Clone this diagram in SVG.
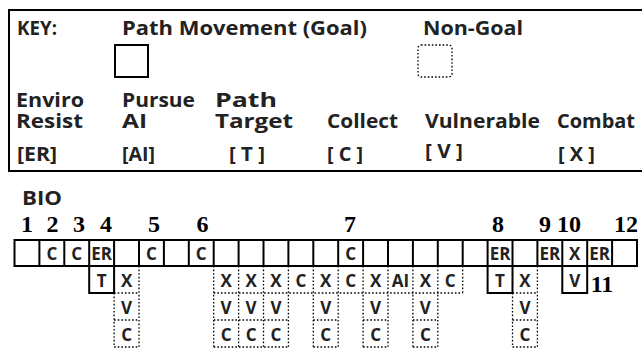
<svg xmlns="http://www.w3.org/2000/svg" width="642" height="350" viewBox="0 0 642 350">
<style>
.k{font-family:"Open Sans","Liberation Sans",sans-serif;font-weight:bold;font-size:19px;fill:#222}
.n{font-family:"Liberation Serif","Times New Roman",serif;font-weight:bold;font-size:24px;fill:#000;text-anchor:middle}
.c{font-family:"Open Sans","Liberation Sans",sans-serif;font-weight:bold;font-size:17px;fill:#222;text-anchor:middle}
.s{fill:none;stroke:#000;stroke-width:2}
.d{fill:none;stroke:#000;stroke-width:1.3;stroke-dasharray:1.6 2}
</style>
<rect width="642" height="350" fill="#fff"/>
<g id="key">
  <path class="s" d="M650 10H9V171H650"/>
  <text class="k" x="17" y="35" textLength="40" lengthAdjust="spacingAndGlyphs">KEY:</text>
  <g id="key-goal">
    <text class="k" x="122" y="35" textLength="245" lengthAdjust="spacingAndGlyphs">Path Movement (Goal)</text>
    <rect class="s" x="115" y="45" width="33" height="32"/>
  </g>
  <g id="key-nongoal">
    <text class="k" x="423" y="35" textLength="100" lengthAdjust="spacingAndGlyphs">Non-Goal</text>
    <rect class="d" x="418" y="45" width="34" height="32" rx="3"/>
  </g>
  <g id="key-er">
    <text class="k" x="16" y="107" textLength="68" lengthAdjust="spacingAndGlyphs">Enviro</text>
    <text class="k" x="16" y="128" textLength="67" lengthAdjust="spacingAndGlyphs">Resist</text>
    <text class="k" x="17" y="161" textLength="40" lengthAdjust="spacingAndGlyphs">[ER]</text>
  </g>
  <g id="key-ai">
    <text class="k" x="122" y="107" textLength="73" lengthAdjust="spacingAndGlyphs">Pursue</text>
    <text class="k" x="122" y="128" textLength="25" lengthAdjust="spacingAndGlyphs">AI</text>
    <text class="k" x="122" y="161" textLength="33" lengthAdjust="spacingAndGlyphs">[AI]</text>
  </g>
  <g id="key-t">
    <text class="k" x="215" y="107" textLength="62" lengthAdjust="spacingAndGlyphs">Path</text>
    <text class="k" x="215" y="128" textLength="78" lengthAdjust="spacingAndGlyphs">Target</text>
    <text class="k" x="229" y="161" textLength="36" lengthAdjust="spacingAndGlyphs">[ T ]</text>
  </g>
  <g id="key-c">
    <text class="k" x="327" y="128" textLength="71" lengthAdjust="spacingAndGlyphs">Collect</text>
    <text class="k" x="327" y="161" textLength="36" lengthAdjust="spacingAndGlyphs">[ C ]</text>
  </g>
  <g id="key-v">
    <text class="k" x="425" y="128" textLength="115" lengthAdjust="spacingAndGlyphs">Vulnerable</text>
    <text class="k" x="425" y="158" textLength="38" lengthAdjust="spacingAndGlyphs">[ V ]</text>
  </g>
  <g id="key-x">
    <text class="k" x="557" y="128" textLength="78" lengthAdjust="spacingAndGlyphs">Combat</text>
    <text class="k" x="558" y="161" textLength="37" lengthAdjust="spacingAndGlyphs">[ X ]</text>
  </g>
</g>
<g id="bio">
  <text class="k" x="22" y="205" textLength="40" lengthAdjust="spacingAndGlyphs" style="font-size:20px">BIO</text>
</g>
<g id="numbers">
  <text class="n" x="27" y="232">1</text>
  <text class="n" x="52.5" y="232">2</text>
  <text class="n" x="79" y="232">3</text>
  <text class="n" x="106" y="232">4</text>
  <text class="n" x="154" y="232">5</text>
  <text class="n" x="202.5" y="232">6</text>
  <text class="n" x="350" y="232">7</text>
  <text class="n" x="498" y="232">8</text>
  <text class="n" x="545" y="232">9</text>
  <text class="n" x="569" y="232">10</text>
  <text class="n" x="602" y="292">11</text>
  <text class="n" x="626" y="232">12</text>
</g>
<g id="track">
  <rect class="s" x="14.5" y="240" width="622.5" height="26"/>
  <path class="s" d="M39.4 240V266M64.3 240V266M89.2 240V266M114.1 240V266M139 240V266M163.9 240V266M188.8 240V266M213.7 240V266M238.6 240V266M263.5 240V266M288.4 240V266M313.3 240V266M338.2 240V266M363.1 240V266M388 240V266M412.9 240V266M437.8 240V266M462.7 240V266M487.6 240V266M512.5 240V266M537.4 240V266M562.3 240V266M587.2 240V266M612.1 240V266"/>
  <g id="cell-2"><text class="c" x="51.85" y="260">C</text></g>
  <g id="cell-3"><text class="c" x="76.75" y="260">C</text></g>
  <g id="cell-4"><text class="c" x="101.65" y="260">ER</text></g>
  <g id="cell-5"><text class="c" x="151.45" y="260">C</text></g>
  <g id="cell-6"><text class="c" x="201.25" y="260">C</text></g>
  <g id="cell-7"><text class="c" x="350.65" y="260">C</text></g>
  <g id="cell-8"><text class="c" x="500.05" y="260">ER</text></g>
  <g id="cell-9"><text class="c" x="549.85" y="260">ER</text></g>
  <g id="cell-10"><text class="c" x="574.75" y="260">X</text></g>
  <g id="cell-12"><text class="c" x="599.65" y="260">ER</text></g>
</g>
<g id="goal-boxes">
  <g id="goal-t4"><rect class="s" x="89.2" y="266" width="24.9" height="27"/><text class="c" x="101.65" y="287">T</text></g>
  <g id="goal-t8"><rect class="s" x="487.6" y="266" width="24.9" height="27"/><text class="c" x="500.05" y="287">T</text></g>
  <g id="goal-v11"><rect class="s" x="562.3" y="266" width="24.9" height="27"/><text class="c" x="574.75" y="287">V</text></g>
</g>
<g id="nongoal-boxes">
  <path class="d" d="M114.1 293H139M213.7 293H462.7M512.5 293H537.4M114.1 320H139M213.7 320H288.4M313.3 320H338.2M363.1 320H388M412.9 320H437.8M512.5 320H537.4M114.1 347H139M213.7 347H288.4M313.3 347H338.2M363.1 347H388M412.9 347H437.8M512.5 347H537.4"/>
  <path class="d" d="M114.1 293V347M139 266V347M213.7 266V347M238.6 266V347M263.5 266V347M288.4 266V347M313.3 266V347M338.2 266V347M363.1 266V347M388 266V347M412.9 266V347M437.8 266V347M462.7 266V293M512.5 293V347M537.4 266V347"/>
  <g id="ng-4"><text class="c" x="126.55" y="287">X</text><text class="c" x="126.55" y="314">V</text><text class="c" x="126.55" y="341">C</text></g>
  <g id="ng-8"><text class="c" x="226.15" y="287">X</text><text class="c" x="226.15" y="314">V</text><text class="c" x="226.15" y="341">C</text></g>
  <g id="ng-9"><text class="c" x="251.05" y="287">X</text><text class="c" x="251.05" y="314">V</text><text class="c" x="251.05" y="341">C</text></g>
  <g id="ng-10"><text class="c" x="275.95" y="287">X</text><text class="c" x="275.95" y="314">V</text><text class="c" x="275.95" y="341">C</text></g>
  <g id="ng-11"><text class="c" x="300.85" y="287">C</text></g>
  <g id="ng-12"><text class="c" x="325.75" y="287">X</text><text class="c" x="325.75" y="314">V</text><text class="c" x="325.75" y="341">C</text></g>
  <g id="ng-13"><text class="c" x="350.65" y="287">C</text></g>
  <g id="ng-14"><text class="c" x="375.55" y="287">X</text><text class="c" x="375.55" y="314">V</text><text class="c" x="375.55" y="341">C</text></g>
  <g id="ng-15"><text class="c" x="400.45" y="287">AI</text></g>
  <g id="ng-16"><text class="c" x="425.35" y="287">X</text><text class="c" x="425.35" y="314">V</text><text class="c" x="425.35" y="341">C</text></g>
  <g id="ng-17"><text class="c" x="450.25" y="287">C</text></g>
  <g id="ng-20"><text class="c" x="524.95" y="287">X</text><text class="c" x="524.95" y="314">V</text><text class="c" x="524.95" y="341">C</text></g>
</g>
</svg>
